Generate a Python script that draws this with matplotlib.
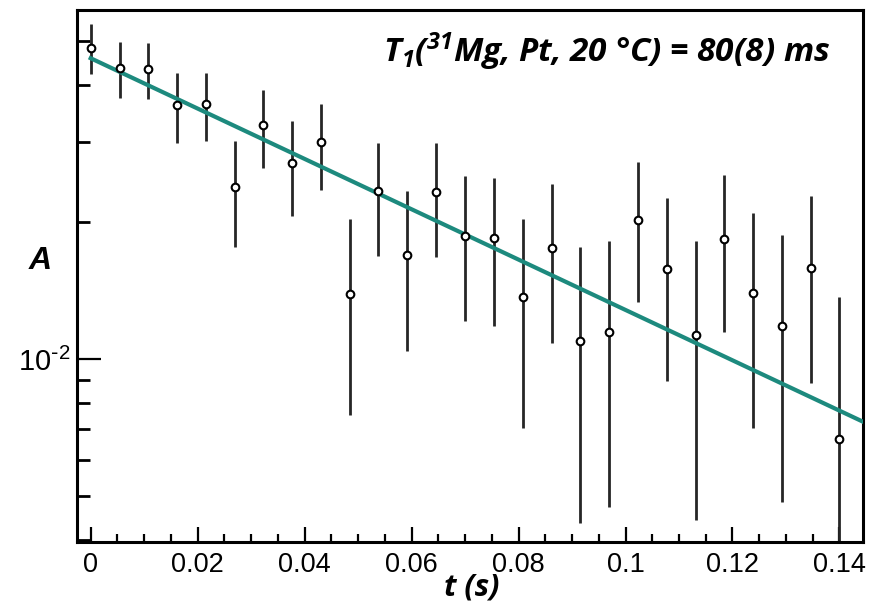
import numpy as np
import matplotlib
matplotlib.use("Agg")
from matplotlib import pyplot as plt
from matplotlib.ticker import FixedLocator, NullFormatter, FixedFormatter

# measured points (time in s, asymmetry)
t = [0.0, 0.0054, 0.0108, 0.0162, 0.0215, 0.0269, 0.0323, 0.0377, 0.0431,
     0.0485, 0.0538, 0.0592, 0.0646, 0.0700, 0.0754, 0.0808, 0.0862, 0.0915,
     0.0969, 0.1023, 0.1077, 0.1131, 0.1185, 0.1238, 0.1292, 0.1346, 0.1400]
A = [0.0483, 0.0437, 0.0434, 0.0361, 0.0363, 0.0239, 0.0326, 0.0269, 0.0299,
     0.0139, 0.0234, 0.0169, 0.0233, 0.0186, 0.0184, 0.0137, 0.01756, 0.01097,
     0.01145, 0.0202, 0.01577, 0.01131, 0.01838, 0.01399, 0.0118, 0.01587, 0.00668]
A_hi = [0.0545, 0.0498, 0.0494, 0.0425, 0.0425, 0.0301, 0.0390, 0.0333, 0.0363,
        0.0203, 0.0298, 0.0234, 0.0298, 0.0252, 0.0250, 0.0203, 0.0242, 0.01763,
        0.0182, 0.0271, 0.0226, 0.0182, 0.0254, 0.0209, 0.01873, 0.0228, 0.01366]
A_lo = [0.0423, 0.0374, 0.0372, 0.0298, 0.0301, 0.01765, 0.0263, 0.0206, 0.0235,
        0.00753, 0.0168, 0.01041, 0.01675, 0.01214, 0.01184, 0.00706, 0.01086, 0.004355,
        0.00472, 0.01334, 0.00895, 0.00443, 0.01145, 0.00706, 0.00484, 0.00884, 0.0035]

# fit: A0 * exp(-t / T1)
A0 = 0.0458
T1 = 0.0785

t = np.array(t)
A = np.array(A)
yerr = [A - np.array(A_lo), np.array(A_hi) - A]

fig = plt.figure(figsize=(8.78, 6.03), dpi=100)
ax = fig.add_axes([0.0877, 0.1012, 0.8952, 0.8830])

ax.errorbar(t, A, yerr=yerr, fmt="none", ecolor="#262626", elinewidth=2.0, zorder=2)
tf = np.linspace(0, 0.1445, 200)
ax.plot(tf, A0 * np.exp(-tf / T1), color="#1d8a7e", lw=3.0, zorder=3)
ax.plot(t, A, "o", ms=5.5, mfc="white", mec="black", mew=1.5, zorder=4)

ax.set_yscale("log")
ax.set_xlim(-0.00256, 0.1444)
ax.set_ylim(3.96e-3, 5.86e-2)

for s in ax.spines.values():
    s.set_linewidth(2.2)

ax.set_xticks(np.arange(0, 0.141, 0.02))
ax.set_xticklabels(["0", "0.02", "0.04", "0.06", "0.08", "0.1", "0.12", "0.14"])
ax.set_xticks(np.arange(0, 0.1441, 0.005), minor=True)
ax.yaxis.set_major_locator(FixedLocator([1e-2]))
ax.yaxis.set_major_formatter(FixedFormatter([r"$\mathregular{10^{\text{-}2}}$"]))
ax.yaxis.set_minor_locator(FixedLocator([4e-3, 5e-3, 6e-3, 7e-3, 8e-3, 9e-3,
                                         2e-2, 3e-2, 4e-2, 5e-2]))
ax.yaxis.set_minor_formatter(NullFormatter())

ax.tick_params(axis="x", which="major", direction="in", length=11, width=1.6,
               pad=7, labelsize=19.5)
ax.tick_params(axis="x", which="minor", direction="in", length=6, width=1.6)
ax.tick_params(axis="y", which="major", direction="in", length=17, width=1.6,
               pad=5, labelsize=21)
ax.tick_params(axis="y", which="minor", direction="in", length=9, width=2.0)
for lab in ax.get_xticklabels() + ax.get_yticklabels():
    lab.set_family("Liberation Sans")

fig.text(383 / 878, 1 - 62 / 603, r"$\mathregular{T_1(^{31}}$Mg, Pt, 20 °C) = 80(8) ms",
         family="Open Sans", fontweight="bold", style="italic", fontsize=24,
         ha="left", va="baseline")
fig.text(472 / 878, 1 - 595 / 603, "t (s)", family="Open Sans", fontweight="bold",
         style="italic", fontsize=22, ha="center", va="baseline")
fig.text(40 / 878, 1 - 261 / 603, "A", family="Liberation Sans", fontweight="bold",
         style="italic", fontsize=23, ha="center", va="center")

fig.savefig("out.png", dpi=100)
